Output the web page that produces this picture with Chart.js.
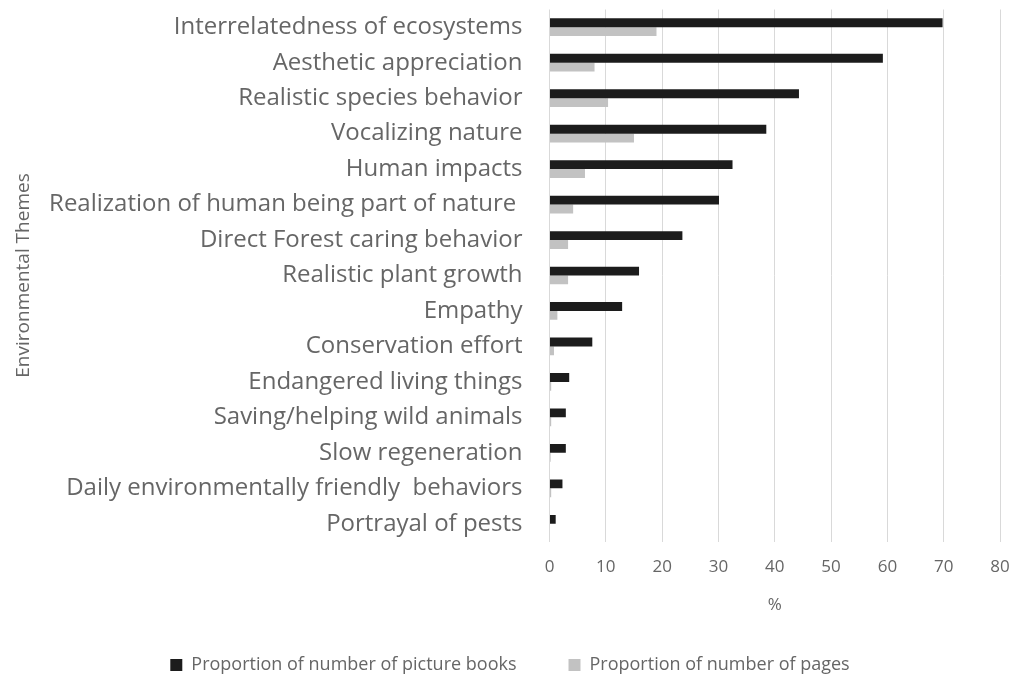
<!DOCTYPE html>
<html>
<head>
<meta charset="utf-8">
<script src="https://cdn.jsdelivr.net/npm/chart.js@4.4.1/dist/chart.umd.min.js"></script>
<style>
  html, body { margin: 0; padding: 0; background: #fff; }
  #wrap { width: 1013px; height: 675px; }
</style>
</head>
<body>
<div id="wrap"><canvas id="themesChart" width="1013" height="675"></canvas></div>
<script>
// Environmental themes, share of picture books vs share of pages (%)
const themes = [
  'Interrelatedness of ecosystems',
  'Aesthetic appreciation',
  'Realistic species behavior',
  'Vocalizing nature',
  'Human impacts',
  'Realization of human being part of nature ',
  'Direct Forest caring behavior',
  'Realistic plant growth',
  'Empathy',
  'Conservation effort',
  'Endangered living things',
  'Saving/helping wild animals',
  'Slow regeneration',
  'Daily environmentally friendly  behaviors',
  'Portrayal of pests'
];
const pictureBooks = [69.8, 59.2, 44.3, 38.5, 32.5, 30.1, 23.6, 15.9, 12.9, 7.6, 3.5, 2.9, 2.9, 2.3, 1.1];
const pages = [19.0, 8.0, 10.4, 15.0, 6.3, 4.2, 3.3, 3.3, 1.4, 0.8, 0.3, 0.3, 0.2, 0.3, 0];
const xTicks = [0, 10, 20, 30, 40, 50, 60, 70, 80];

const textGrey = '#666666';
const fontFamily = "'Open Sans', sans-serif";

new Chart(document.getElementById('themesChart').getContext('2d'), {
  type: 'bar',
  data: {
    labels: themes,
    datasets: [
      {
        label: 'Proportion of number of picture books',
        data: pictureBooks,
        backgroundColor: '#1c1c1c',
        categoryPercentage: 0.5,
        barPercentage: 1.0
      },
      {
        label: 'Proportion of number of pages',
        data: pages,
        backgroundColor: '#c2c2c2',
        categoryPercentage: 0.5,
        barPercentage: 1.0
      }
    ]
  },
  options: {
    indexAxis: 'y',
    responsive: false,
    animation: false,
    layout: { padding: { top: 9.5, right: 0, left: 7, bottom: -9 } },
    scales: {
      x: {
        min: 0,
        max: 80,
        afterBuildTicks: (scale) => { scale.ticks = xTicks.map(v => ({ value: v })); },
        afterFit: (scale) => {
          // fixed band for tick labels and the "%" title, 13px gap on the right
          scale.height = 62.5;
          scale.paddingLeft = 0;
          scale.paddingRight = 13;
        },
        grid: { color: '#d9d9d9', lineWidth: 1, drawTicks: false },
        border: { display: false },
        ticks: { color: textGrey, padding: 15, font: { family: fontFamily, size: 17 } },
        title: {
          display: true,
          text: '%',
          color: textGrey,
          padding: { top: 0, bottom: -11 },
          font: { family: fontFamily, size: 17 }
        }
      },
      y: {
        grid: { display: false, drawTicks: false },
        border: { display: false },
        afterFit: (scale) => {
          scale.width = 542.5;
          scale.paddingTop = 0;
          scale.paddingBottom = 0;
        },
        ticks: { color: textGrey, padding: 27, font: { family: fontFamily, size: 24 } },
        title: {
          display: true,
          text: 'Environmental Themes',
          color: textGrey,
          padding: { top: 5, bottom: 0 },
          font: { family: fontFamily, size: 19 }
        }
      }
    },
    plugins: {
      legend: {
        position: 'bottom',
        labels: {
          color: textGrey,
          boxWidth: 12,
          boxHeight: 12,
          padding: 52,
          font: { family: fontFamily, size: 18 }
        }
      },
      tooltip: { enabled: false }
    }
  }
});
</script>
</body>
</html>
